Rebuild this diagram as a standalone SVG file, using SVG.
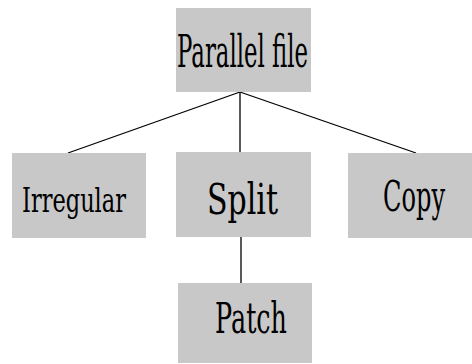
<svg xmlns="http://www.w3.org/2000/svg" width="472" height="364" viewBox="0 0 472 364">
<style>
.box{fill:#c8c8c8;stroke:none}
.lbl{font-family:"DejaVu Serif","Liberation Serif",serif;fill:#000}
.edge{stroke:#000;stroke-width:1.3;fill:none}
</style>
<rect width="472" height="364" fill="#fff"/>
<g id="connectors">
<line class="edge" x1="240" y1="92" x2="68" y2="153"/>
<line class="edge" x1="240" y1="92" x2="240" y2="152"/>
<line class="edge" x1="240" y1="92" x2="416" y2="153"/>
<line class="edge" x1="241" y1="237" x2="241" y2="283"/>
</g>
<g id="parallel">
<rect class="box" x="176" y="8" width="135" height="84"/>
<text class="lbl" x="177" y="67" font-size="44" textLength="131" lengthAdjust="spacingAndGlyphs">Parallel file</text>
</g>
<g id="irregular">
<rect class="box" x="12" y="153" width="134" height="85"/>
<text class="lbl" x="22" y="212" font-size="33" textLength="104" lengthAdjust="spacingAndGlyphs">Irregular</text>
</g>
<g id="split">
<rect class="box" x="176" y="152" width="135" height="85"/>
<text class="lbl" x="207" y="214" font-size="42" textLength="71" lengthAdjust="spacingAndGlyphs">Split</text>
</g>
<g id="copy">
<rect class="box" x="348" y="153" width="124" height="85"/>
<text class="lbl" transform="translate(383 211) scale(1 1.75)" x="0" y="0" font-size="24" textLength="62" lengthAdjust="spacingAndGlyphs">Copy</text>
</g>
<g id="patch">
<rect class="box" x="178" y="283" width="134" height="80"/>
<text class="lbl" x="215" y="333" font-size="42" textLength="72" lengthAdjust="spacingAndGlyphs">Patch</text>
</g>
</svg>
